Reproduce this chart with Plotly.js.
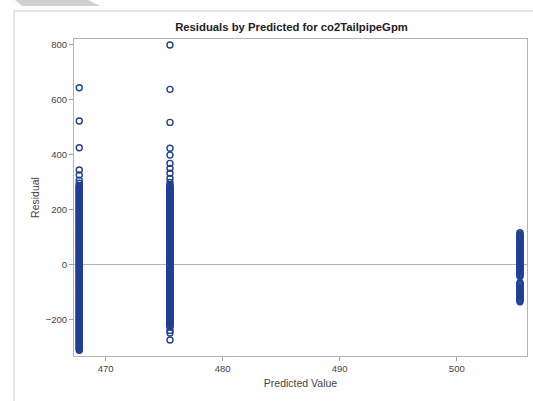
<!DOCTYPE html>
<html>
<head>
<meta charset="utf-8">
<script src="https://cdn.plot.ly/plotly-3.0.1.min.js"></script>
<style>html,body{margin:0;padding:0;background:#fff;}#chart{width:533px;height:401px;}</style>
</head>
<body>
<div id="chart"></div>
<script>
// Predicted values of the three groups (x)
const predictedGroups = [467.75, 475.5, 505.4];

// Residuals for each group
const residualsGroup1 = [642, 521, 424, 343, 325, 306, 295,
  287, 281, 274, 269, 262, 257, 251, 244, 239, 233, 226, 221, 215, 208, 203, 197, 190, 185,
  179, 172, 167, 161, 154, 149, 143, 136, 131, 125, 118, 113, 107, 100, 95, 89, 82, 77, 71,
  64, 59, 53, 46, 41, 35, 28, 23, 17, 10, 5, -1, -8, -13, -19, -26, -31, -37, -44, -49, -55,
  -62, -67, -73, -80, -85, -91, -98, -103, -109, -116, -121, -127, -134, -139, -145, -152,
  -157, -163, -170, -175, -181, -188, -193, -199, -206, -211, -217, -224, -229, -235, -242,
  -247, -253, -260, -265, -271, -278, -283, -289, -296, -301, -307, -312,
  284, 278, 272, 266, 260, 254, 248, 242, 236, 230, 224, 218, 212, 206, 200, 194, 188, 182,
  176, 170, 164, 158, 152, 146, 140, 134, 128, 122, 116, 110, 104, 98, 92, 86, 80, 74, 68, 62,
  56, 50, 44, 38, 32, 26, 20, 14, 8, 2, -4, -10, -16, -22, -28, -34, -40, -46, -52, -58, -64,
  -70, -76, -82, -88, -94, -100, -106, -112, -118, -124, -130, -136, -142, -148, -154, -160,
  -166, -172, -178, -184, -190, -196, -202, -208, -214, -220, -226, -232, -238, -244, -250,
  -256, -262, -268, -274, -280, -286, -292, -298, -304, -309];

const residualsGroup2 = [797, 636, 516, 422, 397, 367, 349, 331, 312, 298,
  288, 282, 275, 270, 263, 258, 252, 245, 240, 234, 227, 222, 216, 209, 204, 198, 191, 186,
  180, 173, 168, 162, 155, 150, 144, 137, 132, 126, 119, 114, 108, 101, 96, 90, 83, 78, 72,
  65, 60, 54, 47, 42, 36, 29, 24, 18, 11, 6, 0, -7, -12, -18, -25, -30, -36, -43, -48, -54,
  -61, -66, -72, -79, -84, -90, -97, -102, -108, -115, -120, -126, -133, -138, -144, -151,
  -156, -162, -169, -174, -180, -187, -192, -198, -205, -210, -216, -222, -227, -249, -275,
  285, 279, 273, 267, 261, 255, 249, 243, 237, 231, 225, 219, 213, 207, 201, 195, 189, 183,
  177, 171, 165, 159, 153, 147, 141, 135, 129, 123, 117, 111, 105, 99, 93, 87, 81, 75, 69, 63,
  57, 51, 45, 39, 33, 27, 21, 15, 9, 3, -3, -9, -15, -21, -27, -33, -39, -45, -51, -57, -63,
  -69, -75, -81, -87, -93, -99, -105, -111, -117, -123, -129, -135, -141, -147, -153, -159,
  -165, -171, -177, -183, -189, -195, -201, -207, -213, -219, -224, -240];

const residualsGroup3 = [115, 106, 99, 91, 84, 76, 69, 61, 54, 46, 39, 31, 24, 16, 9, 1,
  -6, -14, -21, -29, -36, -44, -67, -74, -82, -89, -97, -104, -112, -119, -127, -136,
  110, 102, 95, 87, 80, 72, 65, 57, 50, 42, 35, 27, 20, 12, 5, -2, -10, -18, -25, -33, -40,
  -70, -78, -86, -93, -101, -108, -116, -123, -131];

const xTickValues = [470, 480, 490, 500];
const yTickValues = [-200, 0, 200, 400, 600, 800];

const groups = [residualsGroup1, residualsGroup2, residualsGroup3];
const xs = [], ys = [];
groups.forEach((g, i) => g.forEach(v => { xs.push(predictedGroups[i]); ys.push(v); }));

const trace = {
  x: xs, y: ys, type: 'scatter', mode: 'markers',
  marker: { symbol: 'circle-open', size: 6, color: '#203f95', line: { width: 1.4, color: '#203f95' } },
  hoverinfo: 'x+y', showlegend: false
};

const font = 'Liberation Sans, Arial, sans-serif';
const axisCommon = {
  showgrid: false, showline: true, mirror: true, linecolor: '#b4b4b4', linewidth: 1,
  ticks: 'outside', ticklen: 4, tickcolor: '#a0a0a0',
  tickfont: { family: font, size: 9.5, color: '#444' }
};

const layout = {
  width: 533, height: 401,
  margin: { l: 74, r: 6, t: 39, b: 45 },
  paper_bgcolor: '#fff', plot_bgcolor: '#fff',
  title: { text: '<b>Residuals by Predicted for co2TailpipeGpm</b>', font: { family: font, size: 11.3, color: '#222' },
    x: 291.5 / 533, xref: 'container', xanchor: 'center', y: 1 - 27 / 401, yref: 'container', yanchor: 'middle' },
  xaxis: Object.assign({}, axisCommon, {
    range: [467.3, 506.0], tickvals: xTickValues, zeroline: false,
    title: { text: 'Predicted Value', font: { family: font, size: 10.5, color: '#444' }, standoff: 6 }
  }),
  yaxis: Object.assign({}, axisCommon, {
    range: [-333, 819], tickvals: yTickValues, zeroline: true, zerolinecolor: '#b4b4b4', zerolinewidth: 1,
    title: { text: 'Residual', font: { family: font, size: 10.5, color: '#444' }, standoff: 4 }
  }),
  shapes: [
    { type: 'rect', xref: 'paper', yref: 'paper', x0: (14 - 74) / 453, x1: 1.2, y0: -0.3, y1: (356 - 11) / 317,
      line: { color: '#cccccc', width: 1 }, fillcolor: 'rgba(0,0,0,0)', layer: 'below' },
    { type: 'path', xref: 'paper', yref: 'paper',
      path: 'M -0.1302,1.123 L 0.0309,1.123 L 0.0574,1.104 L -0.1148,1.104 Z',
      fillcolor: '#d0d0d0', line: { width: 0 }, layer: 'below' }
  ]
};

Plotly.newPlot('chart', [trace], layout, { displayModeBar: false, staticPlot: true });
</script>
</body>
</html>
